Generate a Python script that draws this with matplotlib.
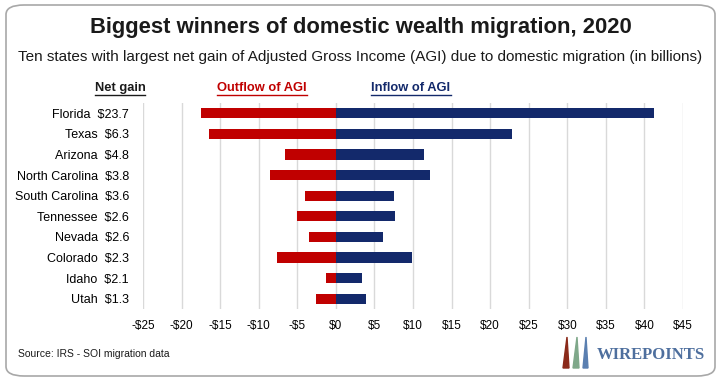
import matplotlib
matplotlib.use("Agg")
from matplotlib import pyplot as plt
from matplotlib.patches import FancyBboxPatch
from matplotlib.lines import Line2D

plt.rcParams['font.family'] = ['Liberation Sans', 'DejaVu Sans']

states = ['Florida', 'Texas', 'Arizona', 'North Carolina', 'South Carolina',
          'Tennessee', 'Nevada', 'Colorado', 'Idaho', 'Utah']
net_gain = ['$23.7', '$6.3', '$4.8', '$3.8', '$3.6', '$2.6', '$2.6', '$2.3', '$2.1', '$1.3']
inflow = [41.2, 22.8, 11.4, 12.2, 7.6, 7.7, 6.1, 9.9, 3.4, 3.9]
outflow = [17.5, 16.5, 6.6, 8.5, 4.0, 5.1, 3.5, 7.6, 1.3, 2.6]
ticks = list(range(-25, 50, 5))

red = '#C00000'
navy = '#13296B'

fig = plt.figure(figsize=(7.21, 3.81), dpi=100)
ax = fig.add_axes([143 / 721, 1 - 309.3 / 381, 540 / 721, 206.6 / 381])

y = list(range(len(states)))
ax.barh(y, [-v for v in outflow], height=0.5, color=red, zorder=3)
ax.barh(y, inflow, height=0.5, color=navy, zorder=3)

ax.set_ylim(len(states) - 0.5, -0.5)
ax.set_xlim(-25, 45)
ax.set_xticks(ticks)
ax.set_xticklabels([('-$%d' % -t) if t < 0 else ('$%d' % t) for t in ticks], fontsize=8.5)
ax.set_yticks(y)
ax.set_yticklabels(['%s  %s' % (s, g) for s, g in zip(states, net_gain)], fontsize=9)
ax.tick_params(length=0)
ax.tick_params(axis='y', pad=10)
ax.tick_params(axis='x', pad=8)
ax.xaxis.grid(True, color='#D9D9D9', lw=1, zorder=0)
for s in ax.spines.values():
    s.set_visible(False)

# frame
fig.patches.append(FancyBboxPatch((6 / 721, 5 / 381), 709 / 721, 371 / 381,
                                  boxstyle='round,pad=0,rounding_size=0.025',
                                  transform=fig.transFigure, fill=False,
                                  edgecolor='#A8A8A8', lw=1.2))

fig.text(0.5, 1 - 27 / 381, 'Biggest winners of domestic wealth migration, 2020',
         ha='center', va='center', fontsize=15.8, fontweight='bold', color='#1A1A1A')
fig.text(0.5, 1 - 57 / 381,
         'Ten states with largest net gain of Adjusted Gross Income (AGI) due to domestic migration (in billions)',
         ha='center', va='center', fontsize=11, color='#1A1A1A')

# underlined column headers
headers = [('Net gain', 120, '#1A1A1A'), ('Outflow of AGI', 262, red), ('Inflow of AGI', 411, navy)]
fig.canvas.draw()
renderer = fig.canvas.get_renderer()
for label, xpos, col in headers:
    t = fig.text(xpos / 721, 1 - 88 / 381, label, ha='center', va='center',
                 fontsize=9.3, fontweight='bold', color=col)
    bb = t.get_window_extent(renderer=renderer).transformed(fig.transFigure.inverted())
    fig.lines.append(Line2D([bb.x0, bb.x1], [bb.y0 - 0.002, bb.y0 - 0.002],
                            transform=fig.transFigure, color=col, lw=1))

fig.text(18 / 721, 1 - 354 / 381, 'Source: IRS - SOI migration data',
         ha='left', va='center', fontsize=7.5, color='#1A1A1A')

# logo
for xs, col in [((563, 567, 569), '#8B2A1A'), ((573, 577, 579), '#7FA88A'), ((583, 586, 588), '#5A7FB0')]:
    fig.patches.append(plt.Polygon([(xs[0] / 721, 1 - 368 / 381), (xs[1] / 721, 1 - 337 / 381),
                                    (xs[2] / 721, 1 - 368 / 381)],
                                   closed=True, transform=fig.transFigure, color=col))
fig.text(705 / 721, 1 - 355 / 381, 'WIREPOINTS', ha='right', va='center',
         fontsize=12, fontweight='bold', family='Liberation Serif', color='#4E6F9E')

fig.savefig('out.png', dpi=100)
